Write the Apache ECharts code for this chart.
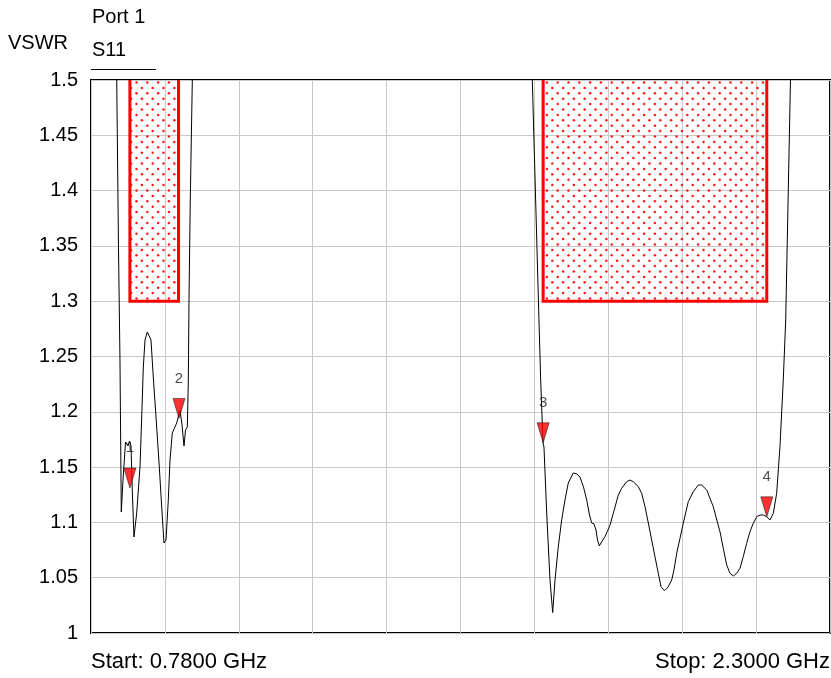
<!DOCTYPE html>
<html><head><meta charset="utf-8">
<script src="https://cdn.jsdelivr.net/npm/echarts@6/dist/echarts.min.js"></script>
<style>html,body{margin:0;padding:0;background:#fff}#c{width:831px;height:678px}</style>
</head><body><div id="c"></div>
<script>
// Trace S11 VSWR (frequency in GHz)
const freqGHz = [
  0.780, 0.8253, 0.8304, 0.8329, 0.8366, 0.8396, 0.8423, 0.8458, 0.8510, 0.8540, 0.8561, 0.8592, 0.8623, 0.8649,
  0.8684, 0.8740, 0.8808, 0.8843, 0.8876, 0.8911, 0.8958, 0.8999, 0.9034, 0.9081, 0.9151, 0.9205, 0.9254, 0.9301,
  0.9343, 0.9390, 0.9425, 0.9472, 0.9563, 0.9631, 0.9672, 0.9713, 0.9744, 0.9781, 0.9801, 0.9816, 0.9842, 0.9884,
  0.9919, 1.0042,
  1.10, 1.30, 1.50, 1.65,
  1.6801, 1.6877, 1.7014, 1.7049, 1.7097, 1.7117, 1.7173, 1.7241, 1.7296, 1.7344, 1.7411, 1.7481, 1.7549, 1.7617,
  1.7720, 1.7796, 1.7858, 1.7930, 1.7996, 1.8053, 1.8098, 1.8146, 1.8187, 1.8218, 1.8255, 1.8304, 1.8372, 1.8419,
  1.8475, 1.8543, 1.8646, 1.8715, 1.8818, 1.8886, 1.8954, 1.9057, 1.9127, 1.9195, 1.9263, 1.9332, 1.9400, 1.9468,
  1.9524, 1.9592, 1.9657, 1.9744, 1.9791, 1.9847, 1.9915, 1.9982, 2.0085, 2.0188, 2.0291, 2.0361, 2.0464, 2.0599,
  2.0737, 2.0805, 2.0875, 2.0943, 2.1011, 2.1081, 2.1149, 2.1216, 2.1286, 2.1354, 2.1422, 2.1492, 2.1560, 2.1628,
  2.1694, 2.1766, 2.1834, 2.1903, 2.1971, 2.2039, 2.2089, 2.2187, 2.2239, 2.2383, 2.30
];
const vswr = [
  4.0, 2.0, 1.62, 1.5, 1.3463, 1.2468, 1.1094, 1.1383, 1.1727, 1.1745, 1.1691, 1.1736, 1.1691, 1.1293,
  1.0868, 1.1085, 1.1501, 1.1953, 1.2405, 1.2649, 1.2722, 1.2722, 1.2649, 1.2315, 1.1863, 1.1501, 1.1139, 1.0814,
  1.0841, 1.1203, 1.1564, 1.1808, 1.1899, 1.2016, 1.1881, 1.1691, 1.1835, 1.1863, 1.2260, 1.3011, 1.3915, 1.5,
  1.65, 2.5,
  4.5, 5.5, 5.0, 3.0,
  1.62, 1.5, 1.2830, 1.2288, 1.1718, 1.1682, 1.1085, 1.0479, 1.0185, 1.0479, 1.0778, 1.1022, 1.1203, 1.1356,
  1.1447, 1.1438, 1.1410, 1.1320, 1.1203, 1.1067, 1.0995, 1.0986, 1.0931, 1.0841, 1.0787, 1.0825, 1.0871, 1.0916,
  1.0976, 1.1082, 1.1248, 1.1308, 1.1368, 1.1383, 1.1368, 1.1323, 1.1263, 1.1142, 1.0995, 1.0841, 1.0690, 1.0540,
  1.0419, 1.0383, 1.0407, 1.0479, 1.0570, 1.0721, 1.0856, 1.0992, 1.1187, 1.1278, 1.1338, 1.1338, 1.1293, 1.1142,
  1.0916, 1.0766, 1.0615, 1.0540, 1.0515, 1.0540, 1.0585, 1.0690, 1.0811, 1.0916, 1.0992, 1.1052, 1.1067, 1.1067,
  1.1052, 1.1022, 1.1082, 1.1263, 1.1685, 1.2288, 1.2830, 1.5, 1.65, 2.5, 5.0
];

// Markers
const markerNames = ['1', '2', '3', '4'];
const markerFreq = [0.86, 0.961, 1.71, 2.17];
const markerVswr = [1.131, 1.194, 1.172, 1.105];

// Limit masks
const maskStart = [0.86, 1.71];
const maskStop = [0.96, 2.17];
const maskLimit = 1.3;

// Axes
const freqStart = 0.78, freqStop = 2.3;
const gridDivisions = 10;
const yMin = 1, yMax = 1.5, yStep = 0.05;

const FONT = "'Liberation Sans', Arial, sans-serif";

function makePattern() {
  const cv = document.createElement('canvas');
  const step = 10.8, n = 5, size = step * n;
  cv.width = size; cv.height = size;
  const ctx = cv.getContext('2d');
  ctx.fillStyle = 'rgba(255,0,0,0.9)';
  for (let i = 0; i < n; i++) for (let j = 0; j < n; j++) {
    [[1.5, 1.5], [1.5 + step / 2, 1.5 + step / 2]].forEach(([ox, oy]) => {
      ctx.beginPath();
      ctx.arc(i * step + ox, j * step + oy, 1.25, 0, Math.PI * 2);
      ctx.fill();
    });
  }
  return cv;
}
const pattern = { image: makePattern(), repeat: 'repeat' };

const chart = echarts.init(document.getElementById('c'), null, { renderer: 'canvas' });

const maskSeries = maskStart.map((s, i) => ({
  type: 'line',
  xAxisIndex: 0, yAxisIndex: 0,
  data: [[s, yMax], [s, maskLimit], [maskStop[i], maskLimit], [maskStop[i], yMax]],
  symbol: 'none',
  lineStyle: { color: '#ff0000', width: 3, join: 'miter' },
  z: 2,
  silent: true,
  markArea: {
    silent: true,
    itemStyle: { color: pattern, borderWidth: 0 },
    data: [[{ coord: [s, maskLimit] }, { coord: [maskStop[i], yMax] }]]
  }
}));

const option = {
  animation: false,
  backgroundColor: '#fff',
  grid: { left: 91, right: 1, top: 80, bottom: 45, show: true, borderColor: '#000', borderWidth: 2, backgroundColor: 'transparent' },
  xAxis: [
    { type: 'value', min: freqStart, max: freqStop, show: false },
    { type: 'value', min: 0, max: gridDivisions, interval: 1, position: 'bottom',
      axisLine: { show: false }, axisTick: { show: false }, axisLabel: { show: false },
      splitLine: { show: true, lineStyle: { color: '#c8c8c8', width: 1 } } }
  ],
  yAxis: [{
    type: 'value', min: yMin, max: yMax, interval: yStep,
    axisLine: { show: false }, axisTick: { show: false },
    axisLabel: { color: '#000', fontSize: 20, fontFamily: FONT, margin: 13 },
    splitLine: { show: true, lineStyle: { color: '#c8c8c8', width: 1 } }
  }],
  graphic: [
    { type: 'text', left: 8, top: 33, style: { text: 'VSWR', fontSize: 20, fontFamily: FONT, fill: '#000' } },
    { type: 'text', left: 92, top: 7, style: { text: 'Port 1', fontSize: 20, fontFamily: FONT, fill: '#000' } },
    { type: 'text', left: 92, top: 40, style: { text: 'S11', fontSize: 20, fontFamily: FONT, fill: '#000' } },
    { type: 'line', shape: { x1: 91, y1: 69.5, x2: 156, y2: 69.5 }, style: { stroke: '#000', lineWidth: 1 } },
    { type: 'text', left: 91, top: 651, style: { text: 'Start: 0.7800 GHz', fontSize: 22, fontFamily: FONT, fill: '#000' } },
    { type: 'text', right: 1, top: 651, style: { text: 'Stop: 2.3000 GHz', fontSize: 22, fontFamily: FONT, fill: '#000' } }
  ],
  series: [
    ...maskSeries,
    {
      type: 'line', xAxisIndex: 0, yAxisIndex: 0,
      data: freqGHz.map((f, i) => [f, vswr[i]]),
      symbol: 'none', clip: true,
      lineStyle: { color: '#000', width: 1 },
      z: 3, silent: true
    },
    {
      type: 'scatter', xAxisIndex: 0, yAxisIndex: 0,
      data: markerFreq.map((f, i) => ({ name: markerNames[i], value: [f, markerVswr[i]] })),
      symbol: 'triangle', symbolSize: [12, 20], symbolRotate: 180, symbolOffset: [0, -10],
      itemStyle: { color: '#ff0000', borderColor: '#000', borderWidth: 0.6 },
      label: { show: true, position: 'top', distance: 12, formatter: p => p.name, color: '#222', fontSize: 15, fontFamily: FONT },
      z: 5, silent: true
    }
  ]
};
chart.setOption(option);
</script>
</body></html>
